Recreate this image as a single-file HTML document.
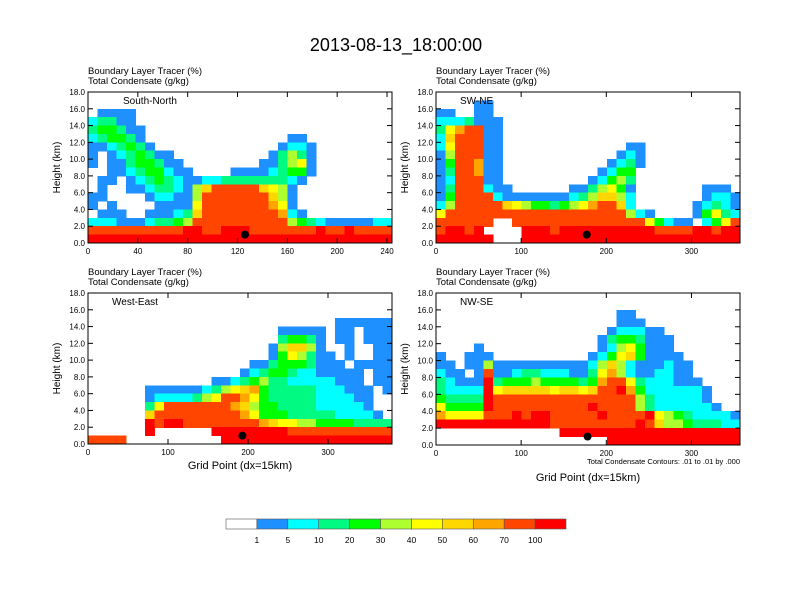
<!DOCTYPE html>
<html><head><meta charset="utf-8"><style>
body{margin:0;background:#fff;}
svg{display:block;font-family:"Liberation Sans",sans-serif;}
</style></head><body>
<svg id="chart" width="792" height="612" viewBox="0 0 792 612">
<text x="396" y="51" text-anchor="middle" font-size="18">2013-08-13_18:00:00</text>
<g id="panels"></g>
<g id="colorbar"></g>
</svg>
<script>
const levelColors=["#ffffff","#1e90ff","#00ffff","#00fa82","#00ff00","#adff2f","#ffff00","#ffd700","#ffa500","#ff4500","#ff0000"];
const levelLabels=["1","5","10","20","30","40","50","60","70","100"];
const panelTitles=["South-North","SW-NE","West-East","NW-SE"];
const panelXMax=[244,357,380,357];
const panelXTicks=[[0,40,80,120,160,200,240],[0,100,200,300],[0,100,200,300],[0,100,200,300]];
const markerX=[126,177,193,178];
const markerZ=[1,1,1,1];
const yTicks=[0,2,4,6,8,10,12,14,16,18];
// grids: rows from 17-18 km (top) down to 0-1 km; char = level index (a=10); '|' is a visual separator
const gridSN=[
"0","0",
"0111|1000|0000|0000|0000|0000|0000|0000",
"2331|1000|0000|0000|0000|0000|0000|0000",
"3443|1100|0000|0000|0000|0000|0000|0000",
"2344|3100|0000|0000|0000|0110|0000|0000",
"1123|4310|0000|0000|0000|1221|0000|0000",
"1012|3431|1000|0000|0001|3531|0000|0000",
"1011|3443|1100|0000|0011|3561|0000|0000",
"0011|2344|2110|0001|1112|3441|0000|0000",
"0110|1234|3211|2233|3333|3210|0000|0000",
"0100|1123|3215|7999|9976|5100|0000|0000",
"1100|0012|2115|9999|9997|5100|0000|0000",
"1010|0001|1116|9999|9998|6100|0000|0000",
"0111|0011|1237|9999|9999|8210|0000|0000",
"2221|1123|3459|9999|9999|9543|2111|1122",
"9999|9999|99aa|99aa|a999|9999|a99a|9999",
"aaaa|aaaa|aaaa|aaaa|aaaa|aaaa|aaaa|aaaa"];
const gridSWNE=[
"0",
"0000|1100|0000|0000|0000|0000|0000|0000",
"1100|1100|0000|0000|0000|0000|0000|0000",
"2223|1110|0000|0000|0000|0000|0000|0000",
"3689|9110|0000|0000|0000|0000|0000|0000",
"2799|9110|0000|0000|0000|0000|0000|0000",
"2699|9110|0000|0000|0000|1100|0000|0000",
"1599|9110|0000|0000|0001|2100|0000|0000",
"1499|8110|0000|0000|0012|3100|0000|0000",
"1399|8110|0000|0000|0124|4000|0000|0000",
"1299|9110|0000|0000|1245|3000|0000|0000",
"1399|9211|0000|0011|3564|1000|0000|1110",
"1499|9921|1111|1123|5775|2000|0000|1221",
"2599|9997|6544|3456|8997|2000|0001|2321",
"6999|9999|9999|9999|9999|5210|0001|4632",
"9999|9900|9999|9999|9999|9964|2110|2469",
"9aa9|a000|0aaa|9aaa|aaaa|aaa9|999a|a9aa",
"aaaa|aa00|0aaa|aaaa|aaaa|aaaa|aaaa|aaaa"];
const gridWE=[
"0","0","0",
"0000|0000|0000|0000|0000|0000|0011|1111",
"0000|0000|0000|0000|0000|1111|1011|0111",
"0000|0000|0000|0000|0000|3443|1011|0111",
"0000|0000|0000|0000|0001|5775|1001|0011",
"0000|0000|0000|0000|0001|4653|1101|0011",
"0000|0000|0000|0000|0113|4443|1110|1111",
"0000|0000|0000|0000|1234|4322|1111|1011",
"0000|0000|0000|0112|3453|3222|2211|1011",
"0000|0011|1111|2356|7843|3333|2221|1101",
"0000|0012|2223|5699|8643|3333|2222|1100",
"0000|0036|9999|9998|7544|3333|2222|2100",
"0000|0079|9999|9999|8644|4333|3322|2210",
"0000|00a9|aa99|9999|9987|6655|4444|3333",
"0000|00a0|0000|0aaa|aaaa|a999|9999|9999",
"9999|0000|0000|00aa|aaaa|aaaa|aaaa|aaaa"];
const gridNWSE=[
"0","0",
"0000|0000|0000|0000|0001|1000|0000|0000",
"0000|0000|0000|0000|0001|1100|0000|0000",
"0000|0000|0000|0000|0012|2211|0000|0000",
"0000|0000|0000|0000|0134|4311|1000|0000",
"0000|1000|0000|0000|0125|6411|1000|0000",
"1001|1100|0000|0000|1246|7411|1100|0000",
"1101|1511|1111|1111|2575|2111|2110|0000",
"2110|1911|2332|2211|3685|2112|2110|0000",
"3211|1a34|4454|4443|4899|6322|2111|0000",
"3222|2a67|7777|6776|799a|8422|2222|1000",
"4333|3a99|9999|9999|9999|9532|2222|1000",
"6444|4a99|9999|9999|a999|9532|2222|2100",
"8666|6999|a9aa|9999|9a99|99a6|5432|2221",
"aaaa|aaaa|aaaa|9999|9999|9a97|5543|3322",
"0000|0000|0000|0aaa|aaaa|aaaa|aaaa|aaaa",
"0000|0000|0000|0000|00aa|aaaa|aaaa|aaaa"];
const grids=[gridSN,gridSWNE,gridWE,gridNWSE];
const panelBoxes=[[88,92,392,243],[436,92,740,243],[88,293,392,444],[436,293,740,445]];
const NS="http://www.w3.org/2000/svg";
function mk(tag,attrs,parent){const e=document.createElementNS(NS,tag);for(const k in attrs)e.setAttribute(k,attrs[k]);parent.appendChild(e);return e;}
const root=document.getElementById('panels');
panelBoxes.forEach((b,p)=>{
  const [x0,y0,x1,y1]=b;const W=x1-x0,H=y1-y0;
  const g=mk('g',{},root);
  
  
  const xs=v=>x0+v/panelXMax[p]*W;
  const ys=z=>y1-z/18*H;
  const grid=grids[p];const nc=32;
  const cells=mk('g',{'shape-rendering':'crispEdges'},g);
  
  
  grid.forEach((rowRaw,ri)=>{
    const row=rowRaw.replace(/\|/g,'');
    const z=grid.length-1-ri;
    for(let c=0;c<nc;c++){
      const ch=row[c]||'0';const lv=parseInt(ch,16);
      if(!lv)continue;
      const xa=xs(c/nc*panelXMax[p]),xb=xs((c+1)/nc*panelXMax[p]);
      const r=mk('rect',{x:xa,y:ys(z+1),width:Math.min(xb-xa+0.6,x1-xa),height:ys(z)-ys(z+1)+0.6,fill:levelColors[lv]},cells);
      
      
    }
  });
  const m=mk('circle',{cx:xs(markerX[p]),cy:ys(markerZ[p]),r:4,fill:'#000'},g);
  
  
  const fr=mk('rect',{x:x0,y:y0,width:W,height:H,fill:'none',stroke:'#000','stroke-width':1},g);
  
  
  yTicks.forEach(t=>{
    const y=ys(t);
    mk('line',{x1:x0,x2:x0+5,y1:y,y2:y,stroke:'#000'},g);
    mk('line',{x1:x1,x2:x1-5,y1:y,y2:y,stroke:'#000'},g);
    const tl=mk('text',{x:x0-3,y:y+3,'text-anchor':'end','font-size':8},g);
    tl.textContent=t.toFixed(1);
    
    
  });
  panelXTicks[p].forEach(t=>{
    const x=xs(t);
    mk('line',{x1:x,x2:x,y1:y1,y2:y1-5,stroke:'#000'},g);
    mk('line',{x1:x,x2:x,y1:y0,y2:y0+5,stroke:'#000'},g);
    const tl=mk('text',{x:x,y:y1+11,'text-anchor':'middle','font-size':8},g);
    tl.textContent=t;
    
    
  });
  const yl=mk('text',{x:0,y:0,transform:`translate(${x0-28},${(y0+y1)/2}) rotate(-90)`,'text-anchor':'middle','font-size':10},g);
  yl.textContent='Height (km)';
  
  
  const t1=mk('text',{x:x0,y:y0-18,'font-size':9.5},g);
  t1.textContent='Boundary Layer Tracer   (%)';
  
  
  const t2=mk('text',{x:x0,y:y0-8,'font-size':9.5},g);
  t2.textContent='Total Condensate   (g/kg)';
  
  
  const lab=mk('text',{x:x0+(p==0?35:24),y:y0+12,'font-size':10},g);
  lab.textContent=panelTitles[p];
  
  
});
const svgRoot=document.getElementById('chart');
function addText(x,y,s,size,anchor,name){const t=mk('text',{x:x,y:y,'font-size':size,'text-anchor':anchor},svgRoot);t.textContent=s;

}
addText(240,469,'Grid Point (dx=15km)',11,'middle','x-axis-title-west-east');
addText(588,481,'Grid Point (dx=15km)',11,'middle','x-axis-title-nw-se');
addText(740,464,'Total Condensate Contours: .01 to .01 by .000',7.5,'end','contour-info');
const cb=document.getElementById('colorbar');
const cbx0=226,cbx1=566,cby=519,cbh=10,bw=(cbx1-cbx0)/levelColors.length;
levelColors.forEach((c,i)=>{
  const r=mk('rect',{x:cbx0+i*bw,y:cby,width:bw,height:cbh,fill:c,stroke:'#555','stroke-width':0.6},cb);
  
  
});
levelLabels.forEach((l,i)=>{
  const t=mk('text',{x:cbx0+(i+1)*bw,y:cby+24,'font-size':8.5,'text-anchor':'middle'},cb);
  t.textContent=l;
  
  
});
</script>
</body></html>
